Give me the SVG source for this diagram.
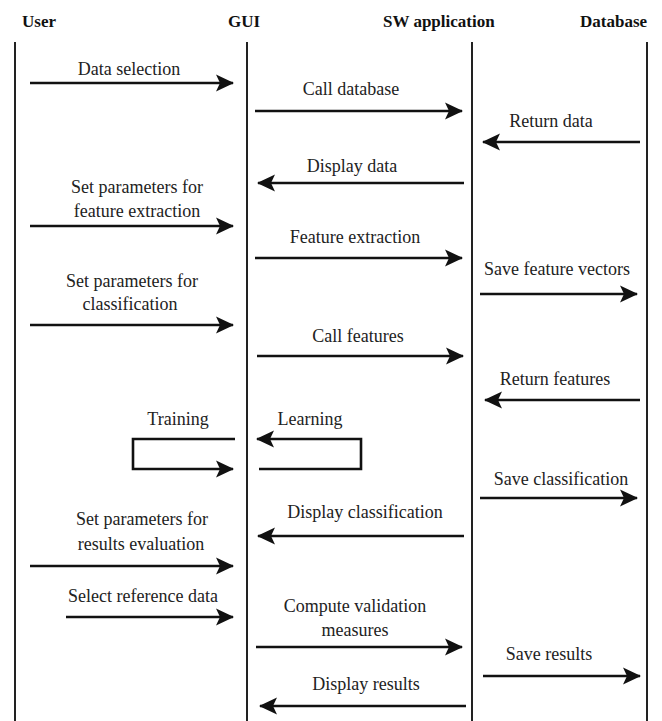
<svg xmlns="http://www.w3.org/2000/svg" width="662" height="721" viewBox="0 0 662 721">
<style>
.hdr{font-family:"Liberation Serif","Times New Roman",serif;font-weight:bold;font-size:17px;fill:#111}
.lbl{font-family:"Liberation Serif","Times New Roman",serif;font-size:18px;fill:#222;text-anchor:middle}
.life{stroke:#222;stroke-width:2;fill:none}
.msg{stroke:#111;stroke-width:2.6;fill:none}
.msgA{stroke:#111;stroke-width:2.6;fill:none;marker-end:url(#ah)}
</style>
<defs>
<marker id="ah" markerUnits="userSpaceOnUse" viewBox="-18 -9 20 18" refX="0" refY="0" markerWidth="20" markerHeight="18" orient="auto">
<path d="M1,0 L-17,-8.5 L-13,0 L-17,8.5 Z" fill="#111"/>
</marker>
</defs>
<rect width="662" height="721" fill="#fff"/>
<g id="user"><text class="hdr" x="22" y="27">User</text><line class="life" x1="15" y1="42" x2="15" y2="721"/></g>
<g id="gui"><text class="hdr" x="228" y="27">GUI</text><line class="life" x1="247" y1="42" x2="247" y2="721"/></g>
<g id="sw"><text class="hdr" x="383" y="27">SW application</text><line class="life" x1="472" y1="42" x2="472" y2="721"/></g>
<g id="db"><text class="hdr" x="580" y="27">Database</text><line class="life" x1="647" y1="42" x2="647" y2="721"/></g>
<g id="connectors">
<text class="lbl" x="129" y="75">Data selection</text>
<line class="msgA" x1="30" y1="83" x2="233" y2="83"/>
<text class="lbl" x="351" y="95">Call database</text>
<line class="msgA" x1="255" y1="111" x2="462" y2="111"/>
<text class="lbl" x="551" y="127">Return data</text>
<line class="msgA" x1="640" y1="142" x2="483" y2="142"/>
<text class="lbl" x="352" y="172">Display data</text>
<line class="msgA" x1="464" y1="183" x2="258" y2="183"/>
<text class="lbl" x="137" y="193">Set parameters for</text>
<text class="lbl" x="137" y="217">feature extraction</text>
<line class="msgA" x1="30" y1="226" x2="233" y2="226"/>
<text class="lbl" x="355" y="243">Feature extraction</text>
<line class="msgA" x1="255" y1="258" x2="462" y2="258"/>
<text class="lbl" x="557" y="275">Save feature vectors</text>
<line class="msgA" x1="480" y1="294" x2="637" y2="294"/>
<text class="lbl" x="132" y="287">Set parameters for</text>
<text class="lbl" x="130" y="310">classification</text>
<line class="msgA" x1="30" y1="325" x2="233" y2="325"/>
<text class="lbl" x="358" y="342">Call features</text>
<line class="msgA" x1="257" y1="356" x2="463" y2="356"/>
<text class="lbl" x="555" y="385">Return features</text>
<line class="msgA" x1="640" y1="400" x2="485" y2="400"/>
<text class="lbl" x="178" y="425">Training</text>
<path class="msgA" d="M235,439 H133 V469 H233"/>
<text class="lbl" x="310" y="425">Learning</text>
<path class="msgA" d="M259,469 H361 V439 H257"/>
<text class="lbl" x="561" y="485">Save classification</text>
<line class="msgA" x1="480" y1="498" x2="637" y2="498"/>
<text class="lbl" x="365" y="518">Display classification</text>
<line class="msgA" x1="464" y1="536" x2="258" y2="536"/>
<text class="lbl" x="142" y="525">Set parameters for</text>
<text class="lbl" x="141" y="550">results evaluation</text>
<line class="msgA" x1="30" y1="566" x2="233" y2="566"/>
<text class="lbl" x="143" y="602">Select reference data</text>
<line class="msgA" x1="66" y1="617" x2="233" y2="617"/>
<text class="lbl" x="355" y="612">Compute validation</text>
<text class="lbl" x="355" y="636">measures</text>
<line class="msgA" x1="256" y1="647" x2="462" y2="647"/>
<text class="lbl" x="549" y="660">Save results</text>
<line class="msgA" x1="483" y1="676" x2="640" y2="676"/>
<text class="lbl" x="366" y="690">Display results</text>
<line class="msgA" x1="466" y1="706" x2="260" y2="706"/>
</g>
</svg>
